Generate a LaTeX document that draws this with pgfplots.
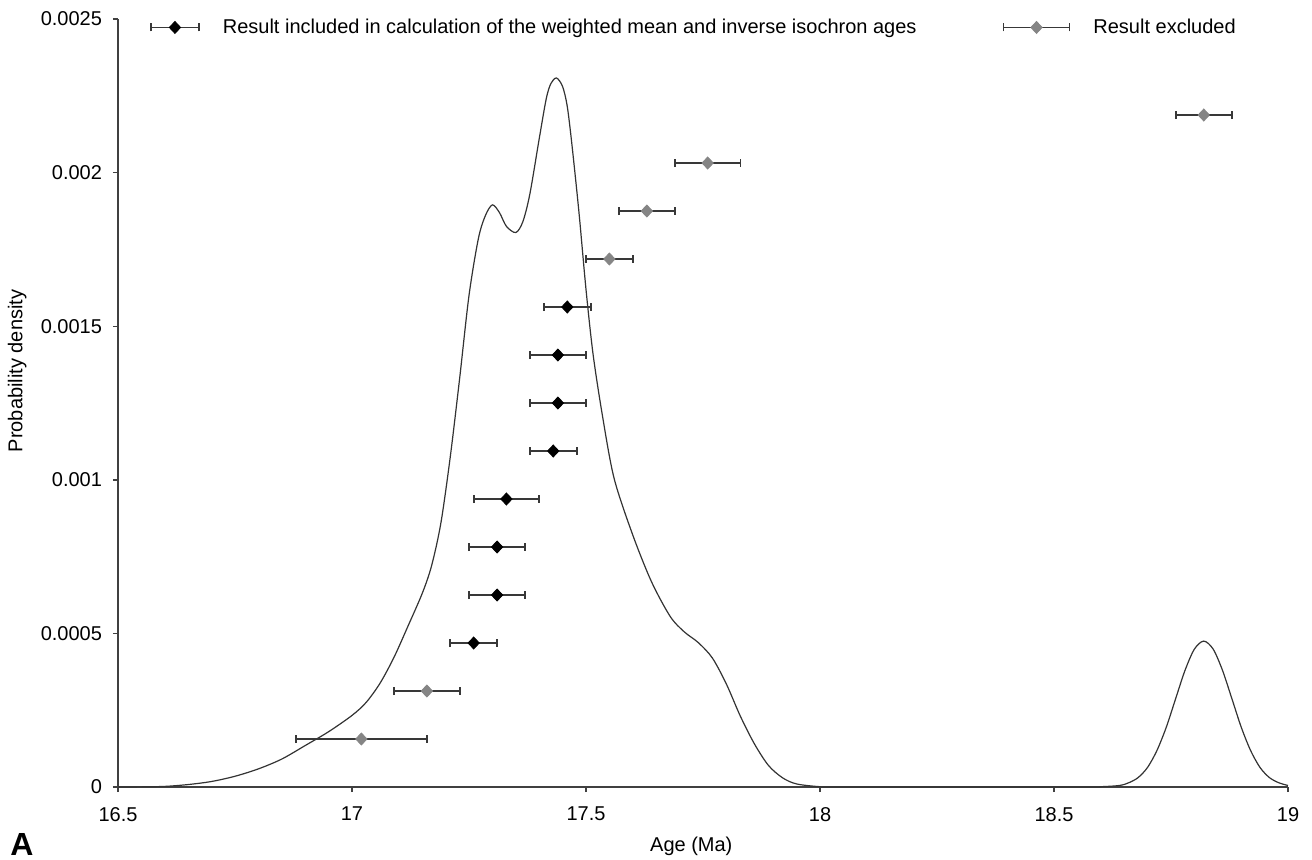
\documentclass[border=0pt]{standalone}
\usepackage{pgfplots}
\pgfplotsset{compat=1.18}
\usepackage{fontspec}
\setmainfont{Liberation Sans}

\definecolor{bargray}{HTML}{383838}
\definecolor{markgray}{HTML}{858585}

\pgfplotsset{
  errlegA/.style={legend image code/.code={
    \draw[bargray, line width=0.9pt] (0pt,0pt) -- (24pt,0pt);
    \draw[bargray, line width=0.9pt] (0pt,-2pt) -- (0pt,2pt);
    \draw[bargray, line width=0.9pt] (24pt,-2pt) -- (24pt,2pt);
    \draw[##1] plot coordinates {(12pt,0pt)};
  }},
  errlegB/.style={legend image code/.code={
    \draw[bargray, line width=0.9pt] (0pt,0pt) -- (33pt,0pt);
    \draw[bargray, line width=0.9pt] (0pt,-2pt) -- (0pt,2pt);
    \draw[bargray, line width=0.9pt] (33pt,-2pt) -- (33pt,2pt);
    \draw[##1] plot coordinates {(16.5pt,0pt)};
  }},
}

\begin{document}
\begin{tikzpicture}[font=\fontsize{10}{12}\selectfont]
\path[use as bounding box] (-59pt,-36pt) rectangle (597pt,393.5pt);
\begin{axis}[
  scale only axis,
  width=585pt, height=384pt,
  xmin=16.5, xmax=19, ymin=0, ymax=0.0025,
  axis lines=left,
  axis line style={-, black!75, line width=0.7pt},
  tick style={black!75, line width=0.7pt},
  tick align=outside,
  major tick length=2.5pt,
  xtick={16.5,17,17.5,18,18.5,19},
  xticklabels={16.5,17,17.5,18,18.5,19},
  ytick={0,0.0005,0.001,0.0015,0.002,0.0025},
  yticklabels={0,0.0005,0.001,0.0015,0.002,0.0025},
  scaled y ticks=false,
  /pgf/number format/assume math mode=true,
  tick label style={font=\fontsize{10}{12}\selectfont},
  xticklabel style={yshift=-4pt},
  yticklabel style={xshift=-2pt},
  xlabel={Age (Ma)},
  ylabel={Probability density},
  label style={font=\fontsize{10}{12}\selectfont},
  x label style={at={(axis description cs:0.49,-0.0565)}, anchor=north},
  y label style={at={(axis description cs:-0.0722,0.5417)}, anchor=south},
  legend columns=2,
  legend style={draw=none, fill=none, inner sep=0pt, outer sep=0pt,
    at={(axis description cs:0.0274,0.989)}, anchor=west,
    font=\fontsize{10}{12}\selectfont,
    nodes={inner sep=0pt},
    /tikz/every odd column/.append style={column sep=11.5pt},
    /tikz/every even column/.append style={column sep=43pt}},
  error bars/error bar style={bargray, line width=0.9pt},
  error bars/error mark options={rotate=90, bargray, mark size=2pt, line width=0.9pt},
]
% probability density curve
\addplot[black!80, line width=0.6pt, smooth, tension=0.5, forget plot] coordinates {
(16.50,0) (16.55,0.0000005) (16.60,0.000002) (16.65,0.000008) (16.70,0.000018)
(16.75,0.000035) (16.80,0.000059) (16.85,0.000091) (16.90,0.000135) (16.95,0.000180)
(17.00,0.000233) (17.03,0.000275) (17.06,0.000338) (17.09,0.000423) (17.12,0.000525)
(17.15,0.000630) (17.17,0.000720) (17.19,0.000860) (17.21,0.001075) (17.23,0.001330)
(17.25,0.001600) (17.27,0.001785) (17.285,0.001860) (17.30,0.001895) (17.315,0.001870)
(17.33,0.001825) (17.35,0.001805) (17.365,0.001840) (17.38,0.001930) (17.40,0.002110)
(17.415,0.002240) (17.425,0.002290) (17.437,0.002308) (17.45,0.002280) (17.46,0.002215)
(17.47,0.002090) (17.485,0.001870) (17.50,0.001620) (17.515,0.001410) (17.535,0.001210)
(17.56,0.001005) (17.60,0.000820) (17.64,0.000668) (17.68,0.000555) (17.71,0.000505)
(17.74,0.000470) (17.77,0.000420) (17.80,0.000335) (17.83,0.000230) (17.86,0.000140)
(17.89,0.000070) (17.92,0.000030) (17.95,0.000010) (18.00,0.000001) (18.05,0)
(18.55,0) (18.60,0.000001) (18.64,0.000005) (18.66,0.000014) (18.68,0.000031)
(18.70,0.000064) (18.72,0.000119) (18.74,0.000195) (18.76,0.000288) (18.78,0.000380)
(18.80,0.000449) (18.82,0.000475) (18.84,0.000449) (18.86,0.000380) (18.88,0.000288)
(18.90,0.000195) (18.92,0.000119) (18.94,0.000064) (18.96,0.000031) (18.98,0.000014)
(19.00,0.000005)
};
% included results
\addplot[only marks, mark=diamond*, mark size=3pt, mark options={black, fill=black, xscale=1.25},
  errlegA, error bars/.cd, x dir=both, x explicit]
  table[x=x, y=y, x error=e] {
x y e
17.26 0.00046875 0.05
17.31 0.000625 0.06
17.31 0.00078125 0.06
17.33 0.0009375 0.07
17.43 0.00109375 0.05
17.44 0.00125 0.06
17.44 0.00140625 0.06
17.46 0.0015625 0.05
};
\addlegendentry{Result included in calculation of the weighted mean and inverse isochron ages}
% excluded results
\addplot[only marks, mark=diamond*, mark size=3pt, mark options={markgray, fill=markgray, xscale=1.25},
  errlegB, error bars/.cd, x dir=both, x explicit]
  table[x=x, y=y, x error=e] {
x y e
17.02 0.00015625 0.14
17.16 0.0003125 0.07
17.55 0.00171875 0.05
17.63 0.001875 0.06
17.76 0.00203125 0.07
18.82 0.0021875 0.06
};
\addlegendentry{Result excluded}
\end{axis}
\node[anchor=base west, inner sep=0pt, font=\fontsize{16}{18}\selectfont\bfseries] at (-54pt,-34pt) {A};
\end{tikzpicture}
\end{document}
